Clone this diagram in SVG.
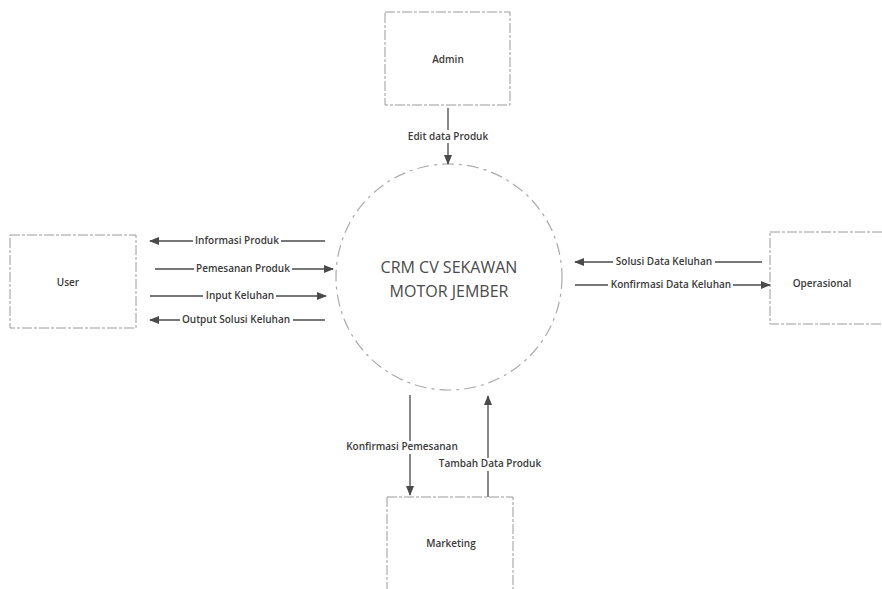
<svg xmlns="http://www.w3.org/2000/svg" width="882" height="589" viewBox="0 0 882 589">
<defs>
<style>
.box{fill:#fff;stroke:#9a9a9a;stroke-width:1;stroke-dasharray:10 2 3 2}
.lbl{font-family:"Open Sans","Liberation Sans",sans-serif;font-size:10px;font-weight:600;fill:#3a3a3a;text-anchor:middle}
.nm{font-family:"Open Sans","Liberation Sans",sans-serif;font-size:10px;font-weight:600;fill:#3a3a3a;text-anchor:middle}
.ttl{font-family:"Open Sans","Liberation Sans",sans-serif;font-size:16px;fill:#4a4a4a;text-anchor:middle}
.ln{stroke:#4a4a4a;stroke-width:1.3;fill:none}
.bg{fill:#fff}
</style>
<marker id="ah" markerWidth="10" markerHeight="8" refX="9" refY="4" orient="auto" markerUnits="userSpaceOnUse">
<path d="M0,0 L10,4 L0,8 Z" fill="#4a4a4a"/>
</marker>
</defs>
<rect width="882" height="589" fill="#fff"/>

<g id="process">
<circle cx="449" cy="277" r="113" fill="#fff" stroke="#aaa" stroke-width="1.2" stroke-dasharray="12 5 3 5"/>
<text class="ttl" x="449" y="273">CRM CV SEKAWAN</text>
<text class="ttl" x="449" y="297">MOTOR JEMBER</text>
</g>

<g id="admin">
<rect class="box" x="385" y="12" width="125" height="93"/>
<text class="nm" x="448" y="63">Admin</text>
</g>

<g id="user">
<rect class="box" x="10" y="235" width="126" height="93"/>
<text class="nm" x="68" y="286">User</text>
</g>

<g id="operasional">
<rect class="box" x="770" y="232" width="120" height="92"/>
<text class="nm" x="822" y="287">Operasional</text>
</g>

<g id="marketing">
<rect class="box" x="387" y="497" width="126" height="100"/>
<text class="nm" x="451" y="547">Marketing</text>
</g>

<g id="connectors">
<line class="ln" x1="448" y1="108" x2="448" y2="164" marker-end="url(#ah)"/>
<rect class="bg" x="406" y="130" width="84" height="13"/>
<text class="lbl" x="448" y="140">Edit data Produk</text>

<line class="ln" x1="325" y1="241" x2="150" y2="241" marker-end="url(#ah)"/>
<rect class="bg" x="193" y="235" width="88" height="12"/>
<text class="lbl" x="237" y="244">Informasi Produk</text>

<line class="ln" x1="155" y1="269" x2="333" y2="269" marker-end="url(#ah)"/>
<rect class="bg" x="194" y="263" width="98" height="12"/>
<text class="lbl" x="243" y="272">Pemesanan Produk</text>

<line class="ln" x1="150" y1="296" x2="326" y2="296" marker-end="url(#ah)"/>
<rect class="bg" x="203" y="290" width="73" height="12"/>
<text class="lbl" x="240" y="299">Input Keluhan</text>

<line class="ln" x1="325" y1="320" x2="150" y2="320" marker-end="url(#ah)"/>
<rect class="bg" x="180" y="314" width="113" height="12"/>
<text class="lbl" x="236" y="323">Output Solusi Keluhan</text>

<line class="ln" x1="762" y1="262" x2="575" y2="262" marker-end="url(#ah)"/>
<rect class="bg" x="613" y="256" width="102" height="12"/>
<text class="lbl" x="664" y="265">Solusi  Data Keluhan</text>

<line class="ln" x1="575" y1="285" x2="770" y2="285" marker-end="url(#ah)"/>
<rect class="bg" x="608" y="279" width="125" height="12"/>
<text class="lbl" x="671" y="288">Konfirmasi Data Keluhan</text>

<line class="ln" x1="410" y1="395" x2="410" y2="495" marker-end="url(#ah)"/>
<rect class="bg" x="344" y="441" width="116" height="13"/>
<text class="lbl" x="402" y="450">Konfirmasi Pemesanan</text>

<line class="ln" x1="488" y1="497" x2="488" y2="396" marker-end="url(#ah)"/>
<rect class="bg" x="437" y="458" width="106" height="13"/>
<text class="lbl" x="490" y="467">Tambah Data Produk</text>
</g>
</svg>
